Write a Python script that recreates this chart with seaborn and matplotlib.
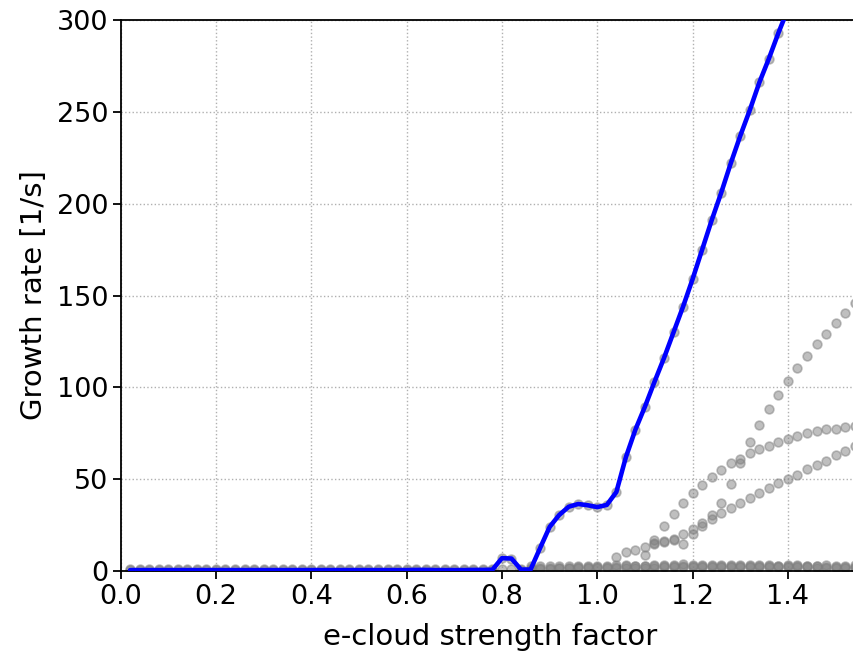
import numpy as np
import pandas as pd
import matplotlib
matplotlib.use("Agg")
import matplotlib.pyplot as plt
import seaborn as sns

# e-cloud strength scan grid
strength = np.round(np.arange(0.02, 1.5601, 0.02), 2)

# most unstable mode (also traced by the blue envelope)
mode_top = [0.5, 0.5, 0.5, 0.5, 0.5, 0.5, 0.5, 0.5, 0.5, 0.5,
            0.5, 0.5, 0.5, 0.5, 0.5, 0.5, 0.5, 0.5, 0.5, 0.5,
            0.5, 0.5, 0.5, 0.5, 0.5, 0.5, 0.5, 0.5, 0.5, 0.5,
            0.6, 0.6, 0.5, 0.5, 0.5, 0.5, 0.6, 0.6, 0.7,
            7.0, 6.8, 0.8, 0.8, 12.5, 24.0, 30.5, 35.0, 36.5, 35.8, 34.8,
            36.0, 43.0, 62.0, 77.0, 89.5, 103.0, 116.0, 130.0, 144.0, 159.0,
            175.0, 191.0, 206.0, 222.0, 237.0, 251.0, 266.0, 279.0, 293.0, 306.0,
            319.0, 332.0, 345.0, 357.0, 369.0, 381.0, 393.0, 404.0]

# secondary modes appearing above strength ~1.04
strength_c = np.round(np.arange(1.04, 1.5601, 0.02), 2)
mode_c = [7.6, 10.2, 11.6, 13.0, 14.8, 16.0, 17.6, 20.0, 22.9, 24.7,
          28.1, 31.4, 34.5, 37.2, 40.0, 42.3, 45.4, 47.7, 50.1, 52.3,
          55.4, 57.7, 60.0, 63.1, 65.5, 68.0, 70.0]

strength_a = np.round(np.arange(1.10, 1.5601, 0.02), 2)
mode_a = [8.8, 15.5, 16.5, 17.0, 14.5, 20.1, 26.3, 30.5, 37.2, 47.2,
          59.0, 70.0, 79.5, 88.0, 96.0, 103.6, 110.4, 117.0, 123.6, 129.3,
          135.0, 140.4, 145.7, 150.5]

strength_b = np.round(np.arange(1.12, 1.5601, 0.02), 2)
mode_b = [17.0, 24.7, 31.2, 37.2, 42.3, 46.6, 51.0, 55.0, 58.6, 60.8,
          64.0, 66.4, 68.2, 70.4, 71.9, 73.5, 75.0, 76.2, 77.1, 77.5,
          78.6, 79.0, 79.3]

# weakly unstable modes near zero
mode_base = [1.0] * 42
strength_low = np.round(np.arange(0.86, 1.5601, 0.02), 2)
mode_low1 = [2.5, 2.6, 2.6, 2.7, 2.7, 2.8, 2.8, 2.8, 3.0, 3.4,
             3.2, 3.0, 3.0, 3.1, 3.3, 3.2, 3.6, 3.4, 3.2, 3.3,
             3.5, 3.3, 3.2, 3.1, 3.3, 3.2, 3.0, 3.2, 3.1, 3.0,
             2.9, 3.1, 3.0, 2.9, 3.2, 3.0]
mode_low2 = [1.6, 1.7, 1.8, 1.8, 1.9, 2.0, 2.0, 2.1, 2.2, 2.4,
             2.5, 2.5, 2.6, 2.6, 2.7, 2.7, 2.8, 2.8, 2.8, 2.9,
             2.9, 2.9, 2.8, 2.8, 2.8, 2.7, 2.7, 2.6, 2.6, 2.5,
             2.5, 2.4, 2.4, 2.3, 2.3, 2.2]
mode_low3 = [1.2, 1.3, 1.3, 1.4, 1.4, 1.5, 1.5, 1.6, 1.6, 1.7,
             1.8, 1.8, 1.9, 1.9, 2.0, 2.0, 2.0, 2.1, 2.1, 2.1,
             2.2, 2.2, 2.2, 2.2, 2.1, 2.1, 2.1, 2.0, 2.0, 2.0,
             1.9, 1.9, 1.9, 1.8, 1.8, 1.8]

x_ticks = [0.0, 0.2, 0.4, 0.6, 0.8, 1.0, 1.2, 1.4]
x_tick_labels = ["0.0", "0.2", "0.4", "0.6", "0.8", "1.0", "1.2", "1.4"]
y_ticks = [0, 50, 100, 150, 200, 250, 300]

frames = [
    pd.DataFrame({"strength": strength, "rate": mode_top}),
    pd.DataFrame({"strength": strength[:42], "rate": mode_base}),
    pd.DataFrame({"strength": strength_a, "rate": mode_a}),
    pd.DataFrame({"strength": strength_b, "rate": mode_b}),
    pd.DataFrame({"strength": strength_c, "rate": mode_c}),
    pd.DataFrame({"strength": strength_low, "rate": mode_low1}),
    pd.DataFrame({"strength": strength_low, "rate": mode_low2}),
    pd.DataFrame({"strength": strength_low, "rate": mode_low3}),
]
modes = pd.concat(frames, ignore_index=True)
envelope = pd.DataFrame({"strength": strength, "rate": mode_top})

sns.set_style("ticks")
plt.rcParams["font.family"] = ["DejaVu Sans"]
plt.rcParams["text.color"] = "black"
plt.rcParams["axes.labelcolor"] = "black"
plt.rcParams["xtick.color"] = "black"
plt.rcParams["ytick.color"] = "black"

fig = plt.figure(figsize=(8.54, 6.52), dpi=100)
ax = fig.add_axes([0.1412, 0.1242, 0.8652, 0.8451])

sns.scatterplot(data=modes, x="strength", y="rate", ax=ax, color="gray",
                edgecolor="gray", linewidth=1.2, s=40, alpha=0.5,
                legend=False, zorder=2)
sns.lineplot(data=envelope, x="strength", y="rate", ax=ax, color="#0000ff",
             linewidth=3.3, legend=False, zorder=3)

ax.set_xlim(0, 1.55)
ax.set_ylim(0, 300)
ax.set_xticks(x_ticks)
ax.set_xticklabels(x_tick_labels)
ax.set_yticks(y_ticks)
ax.grid(True, linestyle=":", color="#b0b0b0", linewidth=1.0)
ax.set_axisbelow(True)
for sp in ax.spines.values():
    sp.set_visible(True)
    sp.set_linewidth(1.3)
    sp.set_color("black")
ax.tick_params(axis="both", which="major", labelsize=19.5, length=5.5,
               width=1.3, direction="out", colors="black", labelcolor="black")
ax.set_xlabel("e-cloud strength factor", fontsize=21, labelpad=10, color="black")
ax.set_ylabel("Growth rate [1/s]", fontsize=21, labelpad=6, color="black")

fig.savefig("out.png", dpi=100)
